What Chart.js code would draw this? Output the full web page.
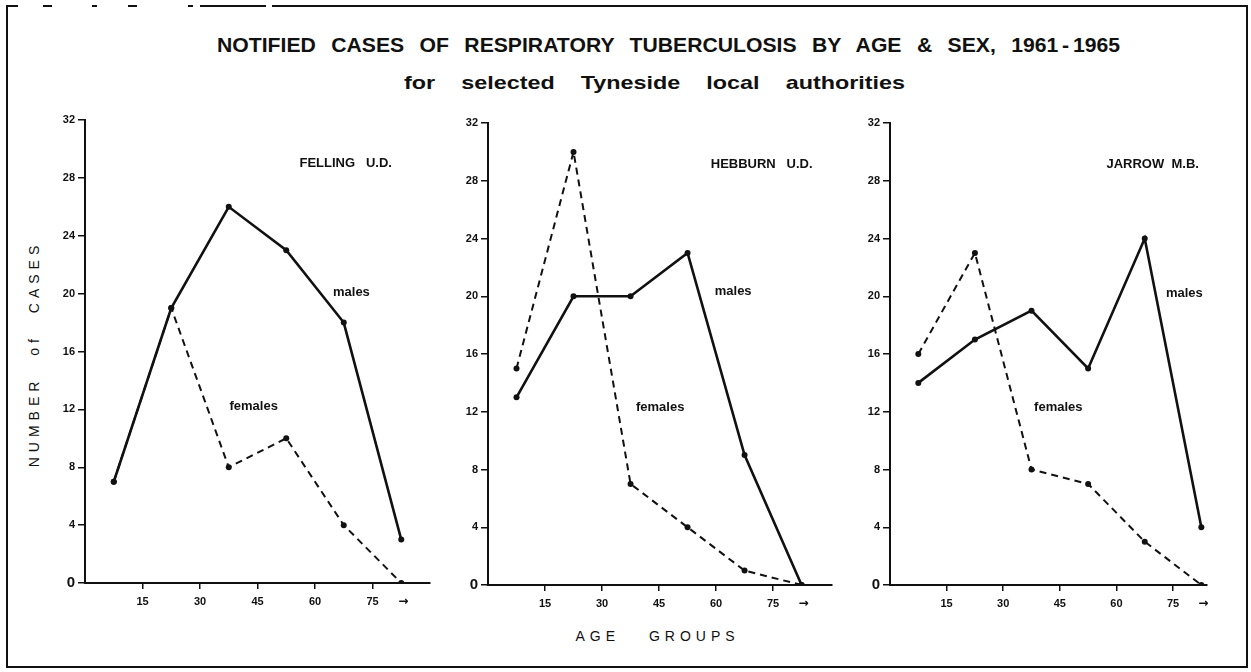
<!DOCTYPE html>
<html>
<head>
<meta charset="utf-8">
<script src="https://cdn.jsdelivr.net/npm/chart.js@4/dist/chart.umd.min.js"></script>
<style>
  html, body { margin: 0; padding: 0; background: #fff; }
  #page { position: relative; width: 1251px; height: 672px; background: #fff; overflow: hidden;
          font-family: "Liberation Sans", "DejaVu Sans", sans-serif; color: #111; }
  #frame { position: absolute; left: 6px; top: 5px; width: 1238px; height: 661px;
           border: 2px solid #111; border-top: none; }
  .rule { position: absolute; top: 5px; height: 2px; background: #111; }
  .txt { position: absolute; white-space: nowrap; font-weight: bold; color: #111; }
  .fit { display: inline-block; transform-origin: 0 0; }
  #title { top: 34px; font-size: 20px; word-spacing: 9px; }
  #title .yr { word-spacing: -2px; }
  #subtitle { top: 72px; font-size: 19px; word-spacing: 16px; }
  #xtitle { left: 0; width: 1251px; top: 628px; text-align: center; font-size: 14px; font-weight: normal;
            letter-spacing: 5px; word-spacing: 20px; padding-left: 64px; box-sizing: border-box; }
  #ytitle { left: 34px; top: 354px; font-size: 14px; font-weight: normal; letter-spacing: 5px; word-spacing: 12px;
            transform: translate(-50%, -50%) rotate(-90deg); }
  canvas { position: absolute; }
</style>
</head>
<body>
<div id="page">
  <div id="frame"></div>
  <div class="rule" style="left:6px;width:12px"></div>
  <div class="rule" style="left:43px;width:9px"></div>
  <div class="rule" style="left:92px;width:5px"></div>
  <div class="rule" style="left:128px;width:9px"></div>
  <div class="rule" style="left:188px;width:5px"></div>
  <div class="rule" style="left:200px;width:66px"></div>
  <div class="rule" style="left:272px;width:974px"></div>
  <div class="txt fit" id="title" data-left="217" data-right="1120">NOTIFIED CASES OF RESPIRATORY TUBERCULOSIS BY AGE &amp; SEX, <span class="yr">1961 - 1965</span></div>
  <div class="txt fit" id="subtitle" data-left="404" data-right="905">for selected Tyneside local authorities</div>
  <div class="txt" id="xtitle">AGE GROUPS</div>
  <div class="txt" id="ytitle">NUMBER of CASES</div>
  <canvas id="c1"></canvas>
  <canvas id="c2"></canvas>
  <canvas id="c3"></canvas>
</div>
<script>
// Age-group midpoints (0-15, 15-30, 30-45, 45-60, 60-75, 75+)
const ageMidpoints = [7.5, 22.5, 37.5, 52.5, 67.5, 82.5];
const ageTicks = [15, 30, 45, 60, 75, 83];
const ageTickLabels = ['15', '30', '45', '60', '75', '\u2192'];
const caseTicks = [0, 4, 8, 12, 16, 20, 24, 28, 32];

const fellingMales   = [7, 19, 26, 23, 18, 3];
const fellingFemales = [7, 19, 8, 10, 4, 0];
const hebburnMales   = [13, 20, 20, 23, 9, 0];
const hebburnFemales = [15, 30, 7, 4, 1, 0];
const jarrowMales    = [14, 17, 19, 15, 24, 4];
const jarrowFemales  = [16, 23, 8, 7, 3, 0];

const ink = '#111';
const face = '"Liberation Sans", sans-serif';

// Heading lines are squeezed horizontally to span their stated extent
document.querySelectorAll('.fit').forEach(el => {
  const left = +el.dataset.left, right = +el.dataset.right;
  const w = el.getBoundingClientRect().width;
  el.style.left = left + 'px';
  el.style.transform = 'scaleX(' + ((right - left) / w) + ')';
});

// Text placed in data units of each panel
const panelLabels = {
  felling: [{ text: 'FELLING   U.D.', x: 68, y: 29, size: 13 },
            { text: 'males', x: 69.5, y: 20.1, size: 13 },
            { text: 'females', x: 44, y: 12.2, size: 13 }],
  hebburn: [{ text: 'HEBBURN   U.D.', x: 72, y: 29.1, size: 13 },
            { text: 'males', x: 64.5, y: 20.3, size: 13 },
            { text: 'females', x: 45.3, y: 12.3, size: 13 }],
  jarrow:  [{ text: 'JARROW  M.B.', x: 69.6, y: 29.1, size: 13 },
            { text: 'males', x: 78, y: 20.2, size: 13 },
            { text: 'females', x: 44.6, y: 12.3, size: 13 }]
};

const labelPlugin = {
  id: 'panelText',
  afterDatasetsDraw(chart, args, opts) {
    const { ctx, scales } = chart;
    ctx.save();
    ctx.fillStyle = ink;
    ctx.textAlign = 'center';
    ctx.textBaseline = 'middle';
    (opts.items || []).forEach(it => {
      ctx.font = 'bold ' + it.size + 'px ' + face;
      ctx.fillText(it.text, scales.x.getPixelForValue(it.x), scales.y.getPixelForValue(it.y));
    });
    ctx.restore();
  }
};

function pairs(values) {
  return values.map((v, i) => ({ x: ageMidpoints[i], y: v }));
}

function makePanel(id, box, xMax, males, females, labels) {
  const el = document.getElementById(id);
  el.style.left = box.left + 'px';
  el.style.top = box.top + 'px';
  el.style.width = box.width + 'px';
  el.style.height = box.height + 'px';
  el.width = box.width;
  el.height = box.height;
  return new Chart(el, {
    type: 'scatter',
    data: {
      datasets: [
        { label: 'males', data: pairs(males), showLine: true, borderColor: ink, backgroundColor: ink,
          borderWidth: 2.6, pointRadius: 3, pointBorderWidth: 0, tension: 0 },
        { label: 'females', data: pairs(females), showLine: true, borderColor: ink, backgroundColor: ink,
          borderWidth: 2, borderDash: [7, 5], pointRadius: 3, pointBorderWidth: 0, tension: 0 }
      ]
    },
    options: {
      responsive: false,
      animation: false,
      events: [],
      layout: { padding: { top: 10, right: 10, left: 0, bottom: 0 } },
      plugins: { legend: { display: false }, tooltip: { enabled: false }, panelText: { items: labels } },
      scales: {
        x: {
          type: 'linear', min: 0, max: xMax,
          border: { color: ink, width: 2 },
          grid: { drawOnChartArea: false, tickLength: 6, lineWidth: 1.5,
                  tickColor: c => (c.tick && c.tick.value === 83) ? 'rgba(0,0,0,0)' : ink },
          afterBuildTicks: s => { s.ticks = ageTicks.map(v => ({ value: v })); },
          afterFit: s => { s.height = 35; },
          ticks: { color: ink, padding: 6, maxRotation: 0, autoSkip: false,
                   font: c => (c.tick && c.tick.value === 83)
                     ? { size: 12, weight: 'bold', family: '"DejaVu Sans", sans-serif' }
                     : { size: 11, weight: 'bold', family: face },
                   callback: v => ageTickLabels[ageTicks.indexOf(v)] }
        },
        y: {
          type: 'linear', min: 0, max: 32,
          border: { color: ink, width: 2 },
          grid: { drawOnChartArea: false, tickLength: 7, lineWidth: 1.5, tickColor: ink },
          afterBuildTicks: s => { s.ticks = caseTicks.map(v => ({ value: v })); },
          afterFit: s => { s.width = 60; },
          ticks: { color: ink, padding: 3, autoSkip: false,
                   font: c => ({ size: c.tick && c.tick.value === 0 ? 15 : 11, weight: 'bold', family: face }),
                   callback: v => String(v) }
        }
      }
    },
    plugins: [labelPlugin]
  });
}

makePanel('c1', { left: 25, top: 110, width: 415, height: 508 }, 90, fellingMales, fellingFemales, panelLabels.felling);
makePanel('c2', { left: 428, top: 113, width: 414, height: 507 }, 90.5, hebburnMales, hebburnFemales, panelLabels.hebburn);
makePanel('c3', { left: 830, top: 113, width: 387, height: 507 }, 84, jarrowMales, jarrowFemales, panelLabels.jarrow);
</script>
</body>
</html>
